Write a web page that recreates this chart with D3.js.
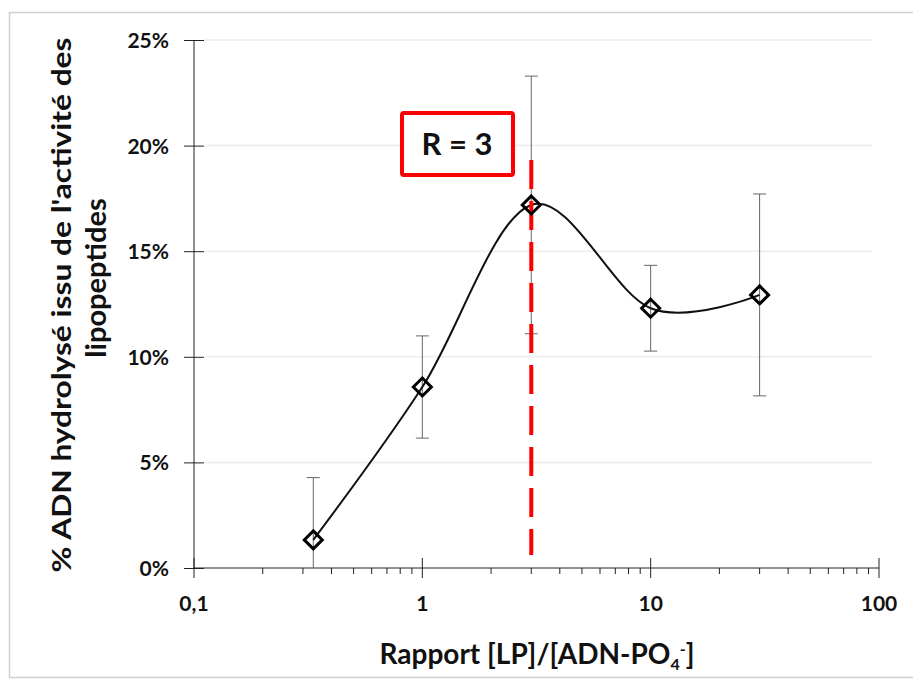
<!DOCTYPE html>
<html>
<head>
<meta charset="utf-8">
<script src="https://cdn.jsdelivr.net/npm/d3@7"></script>
<style>
  html, body { margin: 0; padding: 0; background: #fff; }
  svg { display: block; }
  text { font-family: Lato, "Open Sans", sans-serif; font-weight: bold; fill: #111; }
</style>
</head>
<body>
<svg id="chart" width="913" height="679"></svg>
<script>
// ---- data ----
const ratios = [0.333, 1, 3, 10, 30];
const hydrolysed = [0.0133, 0.0857, 0.1719, 0.1230, 0.1293];
const errors = [0.0295, 0.0242, 0.0610, 0.0203, 0.0478];
const yTicks = [0, 0.05, 0.10, 0.15, 0.20, 0.25];
const xMajorTicks = [0.1, 1, 10, 100];
const xTickLabels = ["0,1", "1", "10", "100"];
const markerRatio = 3;
const markerLabel = "R = 3";

const svg = d3.select("#chart");

// frame
svg.append("rect").attr("x", 9.5).attr("y", 12.5).attr("width", 920).attr("height", 665)
  .attr("fill", "#fff").attr("stroke", "#cfcfcf").attr("stroke-width", 1.5);

const x = d3.scaleLog().domain([0.1, 100]).range([194, 879]);
const y = d3.scaleLinear().domain([0, 0.25]).range([568, 40]);

// faint gridlines
svg.append("g").selectAll("line").data(yTicks.slice(1)).join("line")
  .attr("x1", 205).attr("x2", 872)
  .attr("y1", d => y(d)).attr("y2", d => y(d))
  .attr("stroke", "#f0f0f0").attr("stroke-width", 2);

// y axis
const yAxis = svg.append("g").attr("transform", `translate(${x(0.1)},0)`)
  .call(d3.axisLeft(y).tickValues(yTicks).tickFormat(d => Math.round(d * 100) + "%").tickSize(10).tickPadding(15));
yAxis.select(".domain").attr("stroke", "#222").attr("d", `M0,${y(0)}V${y(0.25)}`);
yAxis.selectAll(".tick line").attr("x1", -10).attr("x2", 10).attr("stroke", "#222");
yAxis.selectAll(".tick text").attr("font-size", 21).attr("font-family", "Lato").attr("font-weight", "bold").attr("fill", "#111").attr("dy", "0.36em");

// x axis
const minorTicks = [];
[0.1, 1, 10].forEach(dec => { for (let k = 2; k <= 9; k++) minorTicks.push(dec * k); });
const xg = svg.append("g").attr("transform", `translate(0,${y(0)})`);
xg.append("path").attr("d", `M${x(0.1)},0H${x(100)}`).attr("stroke", "#222").attr("fill", "none");
xg.selectAll(".minor").data(minorTicks).join("line").attr("class", "minor")
  .attr("x1", d => x(d)).attr("x2", d => x(d)).attr("y1", 0).attr("y2", 6).attr("stroke", "#222");
xg.selectAll(".major").data(xMajorTicks).join("line").attr("class", "major")
  .attr("x1", d => x(d)).attr("x2", d => x(d)).attr("y1", -10).attr("y2", 10).attr("stroke", "#222");
xg.selectAll(".lbl").data(xMajorTicks).join("text").attr("class", "lbl")
  .attr("x", d => x(d)).attr("y", 43).attr("text-anchor", "middle").attr("font-size", 21)
  .text((d, i) => xTickLabels[i]);

// error bars
const pts = ratios.map((r, i) => ({ r, v: hydrolysed[i], e: errors[i] }));
const eb = svg.append("g").attr("stroke", "#666").attr("stroke-width", 1);
pts.forEach(p => {
  const top = y(p.v + p.e), bot = Math.min(y(0), y(p.v - p.e)), cx = x(p.r);
  eb.append("line").attr("x1", cx).attr("x2", cx).attr("y1", top).attr("y2", bot);
  eb.append("line").attr("x1", cx - 6.5).attr("x2", cx + 6.5).attr("y1", top).attr("y2", top);
  if (y(p.v - p.e) < y(0)) eb.append("line").attr("x1", cx - 6.5).attr("x2", cx + 6.5).attr("y1", bot).attr("y2", bot);
});

// smooth curve
const line = d3.line().x(d => x(d.r)).y(d => y(d.v)).curve(d3.curveCardinal.tension(0));
svg.append("path").datum(pts).attr("d", line).attr("fill", "none").attr("stroke", "#111").attr("stroke-width", 2);

// red dashed line
svg.append("line").attr("x1", x(markerRatio)).attr("x2", x(markerRatio)).attr("y1", 160).attr("y2", 555)
  .attr("stroke", "#ff0000").attr("stroke-width", 4).attr("stroke-dasharray", "29,12");

// markers
svg.append("g").selectAll("path").data(pts).join("path")
  .attr("transform", d => `translate(${x(d.r)},${y(d.v)})`)
  .attr("d", "M0,-9L9,0L0,9L-9,0Z")
  .attr("fill", "none").attr("stroke", "#000").attr("stroke-width", 3);

// R = 3 box
svg.append("rect").attr("x", 402).attr("y", 113).attr("width", 111).attr("height", 62).attr("rx", 2)
  .attr("fill", "#fff").attr("stroke", "#ff0000").attr("stroke-width", 4);
svg.append("text").attr("x", 457).attr("y", 155).attr("text-anchor", "middle").attr("font-size", 31)
  .text(markerLabel);

// axis titles
const xt = svg.append("text").attr("x", 537).attr("y", 664).attr("text-anchor", "middle").attr("font-size", 28);
xt.append("tspan").text("Rapport [LP]/[ADN-PO");
xt.append("tspan").attr("font-size", 16).attr("dy", 6).text("4");
xt.append("tspan").attr("font-size", 16).attr("dy", -15).text("-");
xt.append("tspan").attr("dy", 9).text("]");

svg.append("text").attr("transform", "translate(71,305) rotate(-90)").attr("text-anchor", "middle").attr("font-size", 27)
  .attr("textLength", 535).attr("lengthAdjust", "spacingAndGlyphs")
  .text("% ADN hydrolysé issu de l'activité des");
svg.append("text").attr("transform", "translate(106,278) rotate(-90)").attr("text-anchor", "middle").attr("font-size", 29)
  .text("lipopeptides");
</script>
</body>
</html>
